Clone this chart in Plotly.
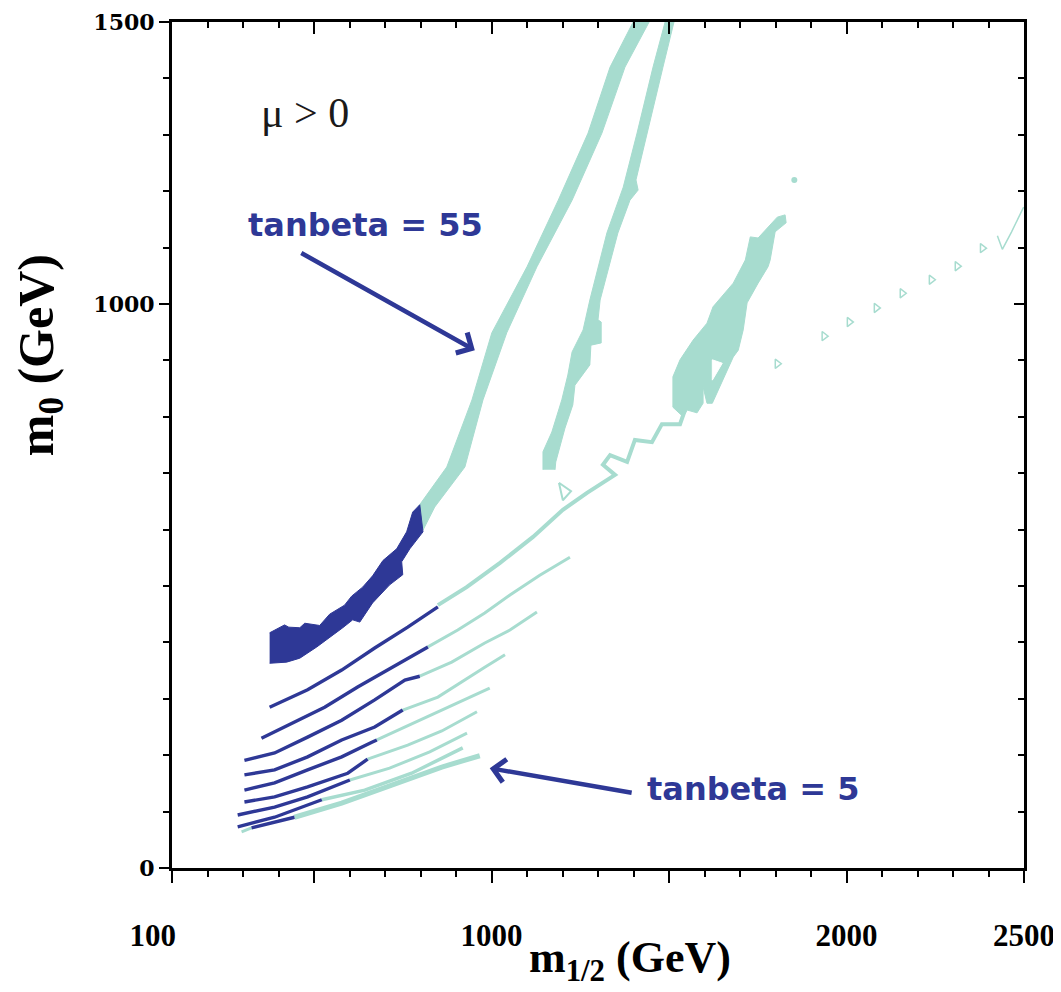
import plotly.graph_objects as go

NAVY = "#2E3896"
AQUA = "#A7DCCF"

# ---------------- data (m_1/2, m_0 in GeV) ----------------
# tan(beta)=55 funnel region, dark part
band55_navy_m12 = [375, 417, 429, 460, 474, 516, 544, 586, 606, 637, 665, 694, 733, 761, 778, 798, 807,
                   770, 747, 750, 713, 665, 629, 609, 581, 544, 508, 460, 423, 375]
band55_navy_m0 = [417, 431, 427, 426, 434, 430, 450, 466, 482, 498, 518, 545, 566, 596, 631, 644, 596,
                  566, 543, 520, 502, 470, 436, 440, 426, 408, 392, 372, 365, 363]

# tan(beta)=55 band, light continuation
band55_aqua_m12 = [793, 874, 945, 1001, 1100, 1188, 1272, 1334, 1399,
                   1444, 1376, 1311, 1227, 1128, 1043, 976, 925, 840, 807]
band55_aqua_m0 = [640, 711, 830, 949, 1066, 1184, 1303, 1420, 1500,
                  1500, 1420, 1303, 1184, 1066, 949, 830, 711, 640, 599]

# second funnel band
band2_m12 = [1145, 1145, 1170, 1198, 1215, 1227, 1258, 1277, 1325, 1371, 1410, 1455, 1489,
             1514, 1483, 1438, 1407, 1413, 1390, 1356, 1306, 1300, 1309, 1309, 1280, 1277,
             1235, 1229, 1207, 1181, 1179]
band2_m0 = [706, 738, 773, 830, 874, 915, 954, 1007, 1126, 1207, 1303, 1420, 1500,
            1500, 1420, 1303, 1220, 1202, 1184, 1126, 1007, 972, 968, 931, 927, 892,
            856, 821, 780, 720, 706]

# third region (blob)
blob_m12 = [1511, 1511, 1531, 1568, 1607, 1624, 1681, 1715, 1729, 1751, 1805, 1827, 1830, 1799,
            1785, 1779, 1751, 1720, 1709, 1695, 1681, 1622, 1607, 1596, 1596, 1579, 1551, 1540, 1511]
blob_m0 = [817, 871, 901, 936, 966, 995, 1037, 1078, 1119, 1117, 1154, 1158, 1144, 1128,
           1078, 1066, 1037, 1002, 954, 918, 906, 824, 824, 853, 824, 807, 812, 800, 817]
blob_hole_m12 = [1622, 1650, 1622, 1622]
blob_hole_m0 = [901, 895, 865, 901]

# coannihilation lines, tan(beta) from high (A) to low (I): dark parts
navy_lines_m12 = [
    [375, 389, 482, 578, 671, 764, 849],
    [352, 437, 530, 623, 719, 821],
    [304, 389, 482, 578, 671, 756, 798],
    [304, 389, 482, 578, 671, 750],
    [304, 389, 482, 578, 663, 677],
    [304, 389, 482, 595, 651],
    [285, 389, 482, 601],
    [285, 389, 522],
    [324, 445],
]
navy_lines_m0 = [
    [285, 289, 316, 351, 390, 427, 463],
    [230, 257, 285, 321, 355, 392],
    [191, 204, 232, 262, 298, 333, 340],
    [165, 174, 197, 227, 250, 280],
    [138, 151, 174, 197, 223, 227],
    [117, 126, 144, 168, 193],
    [94, 108, 126, 156],
    [73, 90, 121],
    [71, 90],
]
# light parts
aqua_lines_m12 = [
    [849, 930, 1024, 1117, 1201, 1269, 1348, 1314, 1334, 1382, 1404, 1452, 1480, 1531, 1545],
    [821, 905, 981, 1052, 1136, 1221],
    [798, 888, 981, 1052, 1128],
    [750, 849, 981, 1038],
    [677, 756, 860, 995],
    [651, 764, 860, 959],
    [601, 713, 826, 931],
    [522, 643, 775, 919],
    [445, 578, 719, 860, 967],
    [296, 324],
]
aqua_lines_m0 = [
    [466, 498, 541, 587, 635, 665, 697, 715, 732, 720, 759, 755, 787, 787, 812],
    [392, 422, 452, 484, 519, 551],
    [340, 365, 399, 422, 454],
    [280, 303, 356, 378],
    [227, 250, 280, 319],
    [193, 218, 243, 277],
    [156, 177, 206, 239],
    [121, 138, 168, 213],
    [90, 115, 147, 179, 199],
    [64, 71],
]
aqua_line_widths = [4, 3, 3, 3, 3, 3, 3, 3.5, 5, 3]

loop_m12 = [1190, 1224, 1201, 1190]
loop_m0 = [683, 668, 652, 683]

# scattered small islands on the right
islands_m12 = [1805, 1937, 2008, 2084, 2157, 2239, 2312, 2383]
islands_m0 = [894, 943, 968, 993, 1019, 1043, 1067, 1099]
drop_m12 = [1853]
drop_m0 = [1220]
tail_m12 = [2425, 2439, 2465, 2499]
tail_m0 = [1121, 1097, 1128, 1172]

x_tickvals = [100, 500, 1000, 1500, 2000, 2500]
x_ticktext = ["100\u00a0\u00a0\u00a0\u00a0\u00a0", "", "1000", "", "2000", "2500"]
y_tickvals = [0, 1000, 1500]
y_ticktext = ["0", "1000", "1500"]

# ---------------- figure ----------------
fig = go.Figure()

def poly(xs, ys, color):
    fig.add_trace(go.Scatter(x=xs, y=ys, mode="lines", fill="toself", fillcolor=color,
                             line=dict(color=color, width=1), hoverinfo="skip", showlegend=False))

poly(band55_aqua_m12, band55_aqua_m0, AQUA)
poly(band2_m12, band2_m0, AQUA)
poly(blob_m12, blob_m0, AQUA)
poly(blob_hole_m12, blob_hole_m0, "white")
poly(band55_navy_m12, band55_navy_m0, NAVY)

for xs, ys, w in zip(aqua_lines_m12, aqua_lines_m0, aqua_line_widths):
    fig.add_trace(go.Scatter(x=xs, y=ys, mode="lines", line=dict(color=AQUA, width=w),
                             hoverinfo="skip", showlegend=False))
for xs, ys in zip(navy_lines_m12, navy_lines_m0):
    fig.add_trace(go.Scatter(x=xs, y=ys, mode="lines", line=dict(color=NAVY, width=3.4),
                             hoverinfo="skip", showlegend=False))

fig.add_trace(go.Scatter(x=loop_m12, y=loop_m0, mode="lines", line=dict(color=AQUA, width=2),
                         hoverinfo="skip", showlegend=False))
fig.add_trace(go.Scatter(x=islands_m12, y=islands_m0, mode="markers",
                         marker=dict(symbol="triangle-right-open", size=8, color=AQUA, line=dict(width=1.5)),
                         hoverinfo="skip", showlegend=False))
fig.add_trace(go.Scatter(x=drop_m12, y=drop_m0, mode="markers",
                         marker=dict(symbol="circle", size=6, color=AQUA),
                         hoverinfo="skip", showlegend=False))
fig.add_trace(go.Scatter(x=tail_m12, y=tail_m0, mode="lines", line=dict(color=AQUA, width=1.5),
                         hoverinfo="skip", showlegend=False))
# dummy trace for mirrored axes
fig.add_trace(go.Scatter(x=[None], y=[None], xaxis="x2", yaxis="y2", showlegend=False))

# arrows
fig.add_annotation(x=953, y=918, ax=460, ay=1092, xref="x", yref="y", axref="x", ayref="y",
                   text="", showarrow=True, arrowhead=4, arrowsize=1, arrowwidth=4.5, arrowcolor=NAVY)
fig.add_annotation(x=995, y=177, ax=1399, ay=133, xref="x", yref="y", axref="x", ayref="y",
                   text="", showarrow=True, arrowhead=4, arrowsize=1, arrowwidth=4.5, arrowcolor=NAVY)

# labels
fig.add_annotation(x=474, y=1339, xref="x", yref="y", text="μ > 0", showarrow=False,
                   font=dict(family="Liberation Serif", size=42, color="#1a1a1a"))
fig.add_annotation(x=646, y=1140, xref="x", yref="y", text="<b>tanbeta = 55</b>", showarrow=False,
                   font=dict(family="DejaVu Sans", size=32, color=NAVY))
fig.add_annotation(x=1737, y=140, xref="x", yref="y", text="<b>tanbeta = 5</b>", showarrow=False,
                   font=dict(family="DejaVu Sans", size=32, color=NAVY))

# axis titles
fig.add_annotation(x=0.537, y=-0.109, xref="paper", yref="paper", xanchor="center", yanchor="middle",
                   text="<b>m<sub>1/2</sub> (GeV)</b>", showarrow=False,
                   font=dict(family="Liberation Serif", size=44, color="black"))
fig.add_annotation(x=-0.155, y=0.606, xref="paper", yref="paper", xanchor="center", yanchor="middle",
                   text="<b>m<sub>0</sub> (GeV)</b>", showarrow=False, textangle=-90,
                   font=dict(family="Liberation Serif", size=50, color="black"))

common_x = dict(range=[100, 2500], showline=True, linecolor="black", linewidth=3, showgrid=False,
                zeroline=False, tickvals=x_tickvals, tickwidth=2, tickcolor="black", ticklen=12,
                automargin=False)
common_y = dict(range=[0, 1500], showline=True, linecolor="black", linewidth=3, showgrid=False,
                zeroline=False, tickvals=y_tickvals, tickwidth=2, tickcolor="black", ticklen=10,
                automargin=False)

# the page body adds an 8 px offset, so the figure is 8 px smaller on each leading side
fig.update_layout(
    width=1053, height=984,
    margin=dict(l=164, r=37, t=14, b=124, autoexpand=False),
    paper_bgcolor="white", plot_bgcolor="white",
    showlegend=False,
    xaxis=dict(**common_x, ticks="outside", ticktext=x_ticktext,
               tickfont=dict(family="Liberation Serif", size=31, color="black", weight="bold"),
               ticklabelstandoff=26,
               minor=dict(ticks="outside", dtick=100, tick0=0, ticklen=6, tickwidth=1.5, tickcolor="black")),
    xaxis2=dict(**common_x, overlaying="x", side="top", ticks="inside", showticklabels=False,
                minor=dict(ticks="inside", dtick=100, tick0=0, ticklen=6, tickwidth=1.5, tickcolor="black")),
    yaxis=dict(**common_y, ticks="outside", ticktext=y_ticktext,
               tickfont=dict(family="DejaVu Serif", size=22, color="black", weight="bold"),
               minor=dict(ticks="outside", dtick=100, tick0=0, ticklen=6, tickwidth=1.5, tickcolor="black")),
    yaxis2=dict(**common_y, overlaying="y", side="right", ticks="inside", showticklabels=False,
                minor=dict(ticks="inside", dtick=100, tick0=0, ticklen=6, tickwidth=1.5, tickcolor="black")),
)

fig.write_html("out.html")
